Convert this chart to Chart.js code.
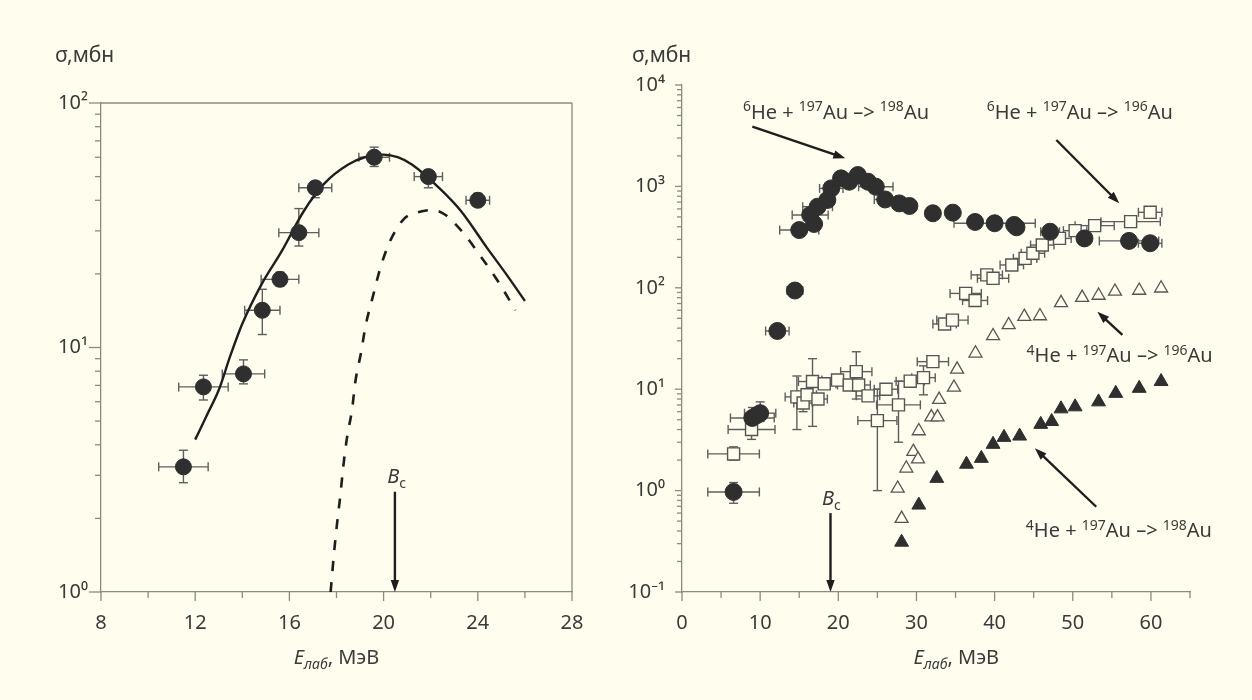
<!DOCTYPE html>
<html>
<head>
<meta charset="utf-8">
<script src="https://cdn.jsdelivr.net/npm/chart.js@4.4.1/dist/chart.umd.min.js"></script>
<style>
    html, body { margin: 0; padding: 0; background: #fffdee; }
    .panel { position: absolute; top: 0; width: 626px; height: 700px; }
    #left-panel { left: 0; }
    #right-panel { left: 626px; }
</style>
</head>
<body>
<div class="panel" id="left-panel"><canvas id="leftChart"></canvas></div>
<div class="panel" id="right-panel"><canvas id="rightChart"></canvas></div>
<script>
// ---- Left panel data ----
const leftE = [11.5, 12.35, 14.05, 14.85, 15.6, 16.4, 17.1, 19.6, 21.9, 24.0];
const leftSigma = [3.25, 6.9, 7.8, 14.2, 19.0, 29.5, 45, 60, 50, 40];
const leftEErr = [1.05, 1.05, 0.9, 0.75, 0.8, 0.85, 0.7, 0.65, 0.6, 0.5];
const leftSigmaLo = [2.8, 6.1, 7.1, 11.3, 17.8, 26, 41, 55, 45, 38];
const leftSigmaHi = [3.8, 7.7, 8.9, 17.3, 20.3, 37, 47.5, 66, 53, 42.7];

const fusionE = [12.0, 12.5, 13.0, 13.5, 14.0, 14.8, 15.7, 16.6, 17.5, 18.5, 19.2, 20.0, 20.6, 21.2, 22.4, 23.3, 24.4, 25.2, 26.0];
const fusionSigma = [4.2, 5.3, 6.7, 9.3, 12.5, 18, 25, 36, 47, 56, 60, 61.5, 60, 56, 44.5, 36, 25.5, 20, 15.5];

const quasiE = [17.75, 17.9, 18.02, 18.17, 18.29, 18.44, 18.66, 18.81, 19.04, 19.23, 19.54, 19.84, 20.22, 20.83, 21.5, 22.1, 22.6, 23.0, 23.5, 24.0, 24.85, 25.6];
const quasiSigma = [1.0, 1.46, 1.89, 2.52, 3.27, 4.24, 5.58, 7.35, 9.5, 12.2, 16.1, 20.8, 26.5, 33.3, 35.8, 36.5, 35, 32.3, 28.5, 24.5, 18.7, 14.2];

const leftXTicks = [8, 12, 16, 20, 24, 28];
const leftXMinor = [10, 14, 18, 22, 26];
const leftYTicks = [1, 10, 100];

// ---- Right panel data ----
// 6He + 197Au -> 198Au (filled circles)
const he6Au198E = [6.6, 9.0, 9.5, 10.0, 12.2, 14.45, 15.0, 16.4, 16.9, 17.35, 18.6, 19.1, 20.35, 21.4, 22.5, 23.8, 24.8, 26.0, 27.8, 29.1, 32.1, 34.65, 37.5, 40.0, 42.5, 42.8, 47.1, 51.5, 57.2, 59.9];
const he6Au198Sigma = [0.97, 5.2, 5.5, 5.8, 37.5, 94, 371, 522, 426, 631, 734, 956, 1200, 1112, 1294, 1112, 993, 743, 680, 641, 543, 551, 446, 433, 417, 395, 357, 307, 290, 275];
const he6Au198EErr = [3.3, 2.8, 0, 2.0, 1.5, 1.0, 2.5, 2.3, 0, 1.9, 0, 1.5, 0, 0, 0, 0, 2.2, 1.4, 0, 0, 0, 0, 0, 5.2, 0, 0, 1.2, 0, 3.8, 1.5];
const he6Au198SigmaLo = [0.75, 4.4, null, 4.8, null, null, null, null, null, null, null, null, null, null, null, null, null, null, null, null, null, null, null, null, null, null, null, null, null, null];
const he6Au198SigmaHi = [1.2, 6.6, null, 7.5, null, null, null, null, null, null, null, null, null, null, null, null, null, null, null, null, null, null, null, null, null, null, null, null, null, null];

// 6He + 197Au -> 196Au (open squares)
const he6Au196E = [6.6, 8.9, 14.7, 15.5, 16.0, 16.7, 17.4, 18.2, 19.9, 21.4, 22.3, 22.6, 23.8, 25.0, 26.1, 27.7, 29.2, 30.9, 32.1, 33.6, 34.6, 36.3, 37.5, 39.0, 39.8, 42.2, 43.9, 44.9, 46.1, 48.3, 50.3, 52.8, 57.4, 59.9];
const he6Au196Sigma = [2.3, 4.0, 8.4, 7.3, 8.8, 11.9, 8.0, 11.3, 12.3, 11.0, 14.9, 11.0, 8.6, 4.9, 10.0, 7.0, 12.0, 13.0, 18.7, 44, 48, 88, 75, 134, 124, 168, 195, 219, 264, 307, 366, 410, 449, 555];
const he6Au196EErr = [3.3, 3.0, 1.5, 1.2, 1.2, 1.8, 1.2, 1.5, 2.0, 1.5, 2.0, 1.5, 1.5, 2.5, 1.5, 2.8, 1.8, 1.5, 2.0, 1.5, 2.0, 2.0, 1.6, 2.0, 2.0, 1.5, 1.5, 1.5, 1.5, 1.5, 1.5, 2.5, 3.8, 1.5];
const he6Au196SigmaLo = [2.0, 3.2, 4.0, 6.0, null, 4.3, null, null, null, null, 8.0, null, null, 1.0, null, 3.0, null, 8.8, null, null, null, null, null, null, null, null, null, null, null, null, null, null, null, null];
const he6Au196SigmaHi = [2.7, 5.0, 13.5, 9.0, null, 20, null, null, null, null, 23.4, null, null, 10, null, 12, null, 17, null, null, null, null, null, null, null, null, null, null, null, null, null, null, null, null];

// 4He + 197Au -> 196Au (open triangles)
const he4Au196E = [28.1, 27.6, 28.7, 29.6, 30.2, 30.3, 31.9, 32.7, 32.9, 34.8, 35.2, 37.55, 39.8, 41.8, 43.8, 45.8, 48.5, 51.2, 53.3, 55.4, 58.5, 61.3];
const he4Au196Sigma = [0.53, 1.05, 1.66, 2.42, 2.04, 3.87, 5.3, 5.3, 7.9, 10.4, 15.7, 22.6, 33.5, 43, 51.9, 52.7, 71, 80, 84, 92, 94, 99];

// 4He + 197Au -> 198Au (filled triangles)
const he4Au198E = [28.1, 30.3, 32.6, 36.4, 38.3, 39.8, 41.2, 43.2, 45.9, 47.3, 48.5, 50.3, 53.3, 55.5, 58.5, 61.3];
const he4Au198Sigma = [0.31, 0.72, 1.32, 1.82, 2.08, 2.86, 3.35, 3.45, 4.5, 4.8, 6.4, 6.7, 7.5, 9.1, 10.2, 11.9];

const rightXTicks = [0, 10, 20, 30, 40, 50, 60];
const rightXMinor = [5, 15, 25, 35, 45, 55, 65];
const rightYTicks = [0.1, 1, 10, 100, 1000, 10000];

// ---- Style ----
const FONT = '"Noto Sans", "Open Sans", sans-serif';
const BG = '#fffdee';
const INK = '#2f2f2f';
const TEXT = '#3a3a3a';
const AXIS = '#8d8a7e';
const ERR = '#5e5e5e';

const SUP = { '-': '\u207b', '0': '\u2070', '1': '\u00b9', '2': '\u00b2', '3': '\u00b3', '4': '\u2074' };

function decadeLabel(v) {
    const exp = Math.round(Math.log10(v));
    return '10' + String(exp).split('').map(c => SUP[c]).join('');
}

function pts(xs, ys) {
    return xs.map((x, i) => ({ x, y: ys[i] }));
}

function minorLog(min, max) {
    const out = [];
    for (let d = min; d < max; d *= 10) {
        for (let k = 2; k <= 9; k++) out.push(d * k);
    }
    return out;
}

// text with superscript / subscript / italic runs, y = baseline
function drawRich(ctx, parts, x, y, size, align) {
    const fonts = parts.map(([t, s]) => {
        const small = s === 'sup' || s === 'sub' || s === 'isub';
        const italic = s === 'i' || s === 'isub';
        return (italic ? 'italic ' : '') + (small ? Math.round(size * 0.72) : size) + 'px ' + FONT;
    });
    let total = 0;
    parts.forEach(([t], i) => { ctx.font = fonts[i]; total += ctx.measureText(t).width; });
    let cx = align === 'center' ? x - total / 2 : align === 'right' ? x - total : x;
    ctx.textAlign = 'left';
    ctx.textBaseline = 'alphabetic';
    parts.forEach(([t, s], i) => {
        ctx.font = fonts[i];
        let dy = 0;
        if (s === 'sup') dy = -size * 0.36;
        if (s === 'sub' || s === 'isub') dy = size * 0.25;
        ctx.fillText(t, cx, y + dy);
        cx += ctx.measureText(t).width;
    });
}

function drawArrow(ctx, x0, y0, x1, y1, head) {
    const a = Math.atan2(y1 - y0, x1 - x0);
    const c = Math.cos(a), s = Math.sin(a);
    ctx.beginPath();
    ctx.moveTo(x0, y0);
    ctx.lineTo(x1 - c * head * 0.8, y1 - s * head * 0.8);
    ctx.stroke();
    ctx.beginPath();
    ctx.moveTo(x1, y1);
    ctx.lineTo(x1 - head * c + head * 0.35 * s, y1 - head * s - head * 0.35 * c);
    ctx.lineTo(x1 - head * c - head * 0.35 * s, y1 - head * s + head * 0.35 * c);
    ctx.closePath();
    ctx.fill();
}

// error bars, drawn under the markers
const errorBars = {
    id: 'errorBars',
    beforeDatasetsDraw(chart) {
        const { ctx, scales: { x, y } } = chart;
        ctx.save();
        ctx.strokeStyle = ERR;
        ctx.lineWidth = 1.4;
        const seg = (a, b, c, d) => { ctx.beginPath(); ctx.moveTo(a, b); ctx.lineTo(c, d); ctx.stroke(); };
        chart.data.datasets.forEach(ds => {
            if (!ds.errors) return;
            const { ex, lo, hi } = ds.errors;
            const cap = 4.5;
            ds.data.forEach((p, i) => {
                const px = x.getPixelForValue(p.x);
                const py = y.getPixelForValue(p.y);
                if (ex && ex[i]) {
                    const x0 = x.getPixelForValue(p.x - ex[i]);
                    const x1 = x.getPixelForValue(p.x + ex[i]);
                    seg(x0, py, x1, py);
                    seg(x0, py - cap, x0, py + cap);
                    seg(x1, py - cap, x1, py + cap);
                }
                if (lo && lo[i] != null) {
                    const y0 = y.getPixelForValue(lo[i]);
                    const y1 = y.getPixelForValue(hi[i]);
                    seg(px, y0, px, y1);
                    seg(px - cap, y0, px + cap, y0);
                    seg(px - cap, y1, px + cap, y1);
                }
            });
        });
        ctx.restore();
    }
};

// tick marks, frame, titles and annotations
const decorations = {
    id: 'decorations',
    afterDraw(chart, args, opts) {
        const { ctx, chartArea: a, scales: { x, y } } = chart;
        ctx.save();
        ctx.strokeStyle = AXIS;
        ctx.lineWidth = 1.3;
        const seg = (x0, y0, x1, y1) => { ctx.beginPath(); ctx.moveTo(x0, y0); ctx.lineTo(x1, y1); ctx.stroke(); };

        if (opts.box) {
            seg(a.left, a.top, a.right, a.top);
            seg(a.right, a.top, a.right, a.bottom);
        }
        opts.xMajor.forEach(v => { const px = x.getPixelForValue(v); seg(px, a.bottom, px, a.bottom + opts.xMajorLen); });
        opts.xMinor.forEach(v => { const px = x.getPixelForValue(v); seg(px, a.bottom, px, a.bottom + opts.xMinorLen); });
        opts.yMajor.forEach(v => { const py = y.getPixelForValue(v); seg(a.left - opts.yMajorLen, py, a.left, py); });
        opts.yMinor.forEach(v => { const py = y.getPixelForValue(v); seg(a.left - opts.yMinorLen, py, a.left, py); });

        ctx.fillStyle = TEXT;
        // y title
        drawRich(ctx, [['\u03c3,\u043c\u0431\u043d', '']], opts.yTitleX, opts.yTitleY, 21, 'left');
        // x title
        drawRich(ctx, [['E', 'i'], ['\u043b\u0430\u0431', 'isub'], [', \u041c\u044d\u0412', '']],
            x.getPixelForValue(opts.xTitleAt), 664, 20, 'center');

        // annotations with arrows
        ctx.fillStyle = '#1e1e1e';
        ctx.strokeStyle = '#1e1e1e';
        ctx.lineWidth = 2.4;
        opts.notes.forEach(n => {
            if (n.parts) {
                ctx.fillStyle = TEXT;
                drawRich(ctx, n.parts, x.getPixelForValue(n.x), y.getPixelForValue(n.y) + 7, n.size || 20, n.align || 'center');
                ctx.fillStyle = '#1e1e1e';
            }
            if (n.arrow) {
                const [x0, y0, x1, y1] = n.arrow;
                drawArrow(ctx, x.getPixelForValue(x0), y.getPixelForValue(y0),
                    x.getPixelForValue(x1), y.getPixelForValue(y1), 12);
            }
        });
        ctx.restore();
    }
};

function baseOptions(cfg) {
    return {
        animation: false,
        responsive: true,
        maintainAspectRatio: false,
        layout: { padding: cfg.padding },
        plugins: {
            legend: { display: false },
            tooltip: { enabled: false },
            decorations: cfg.deco
        },
        scales: {
            x: {
                type: 'linear',
                min: cfg.xMin,
                max: cfg.xMax,
                afterBuildTicks: s => { s.ticks = cfg.xTicks.map(v => ({ value: v })); },
                afterFit: s => { s.height = cfg.xHeight; },
                grid: { display: false, drawTicks: false },
                border: { display: true, color: AXIS, width: 1.3 },
                ticks: { padding: 19, color: TEXT, font: { family: FONT, size: 20 }, maxRotation: 0 }
            },
            y: {
                type: 'logarithmic',
                min: cfg.yMin,
                max: cfg.yMax,
                afterBuildTicks: s => { s.ticks = cfg.yTicks.map(v => ({ value: v })); },
                afterFit: s => { s.width = cfg.yWidth; },
                grid: { display: false, drawTicks: false },
                border: { display: true, color: AXIS, width: 1.3 },
                ticks: { padding: cfg.yPad, color: TEXT, font: { family: FONT, size: 20 }, callback: v => decadeLabel(v) }
            }
        }
    };
}

// ---- Left chart ----
new Chart(document.getElementById('leftChart'), {
    type: 'scatter',
    data: {
        datasets: [
            {
                data: pts(leftE, leftSigma),
                pointStyle: 'circle',
                pointRadius: 8,
                backgroundColor: INK,
                borderColor: INK,
                borderWidth: 1,
                errors: { ex: leftEErr, lo: leftSigmaLo, hi: leftSigmaHi }
            },
            {
                type: 'line',
                data: pts(fusionE, fusionSigma),
                borderColor: '#1e1e1e',
                borderWidth: 2.4,
                pointRadius: 0,
                cubicInterpolationMode: 'monotone',
                fill: false
            },
            {
                type: 'line',
                data: pts(quasiE, quasiSigma),
                borderColor: '#1e1e1e',
                borderWidth: 2.6,
                borderDash: [10, 11],
                pointRadius: 0,
                cubicInterpolationMode: 'monotone',
                fill: false
            }
        ]
    },
    options: baseOptions({
        padding: { top: 103, right: 54, left: 0, bottom: 0 },
        xMin: 8, xMax: 28, xTicks: leftXTicks, xHeight: 108,
        yMin: 1, yMax: 100, yTicks: leftYTicks, yWidth: 101, yPad: 13,
        deco: {
            box: true,
            xMajor: leftXTicks, xMinor: leftXMinor, xMajorLen: 9, xMinorLen: 6,
            yMajor: leftYTicks, yMinor: minorLog(1, 100), yMajorLen: 12, yMinorLen: 6,
            yTitleX: 55, yTitleY: 62, xTitleAt: 18.0,
            notes: [
                { parts: [['B', 'i'], ['c', 'sub']], x: 20.55, y: 2.97, align: 'center', arrow: [20.48, 2.57, 20.48, 1.0] }
            ]
        }
    }),
    plugins: [errorBars, decorations]
});

// ---- Right chart ----
const reaction = (a, b, c) => [[a, 'sup'], ['He + ', ''], [b, 'sup'], ['Au \u2013> ', ''], [c, 'sup'], ['Au', '']];

new Chart(document.getElementById('rightChart'), {
    type: 'scatter',
    data: {
        datasets: [
            {
                data: pts(he6Au198E, he6Au198Sigma),
                pointStyle: 'circle',
                pointRadius: 8.5,
                backgroundColor: INK,
                borderColor: INK,
                borderWidth: 1,
                errors: { ex: he6Au198EErr, lo: he6Au198SigmaLo, hi: he6Au198SigmaHi }
            },
            {
                data: pts(he4Au198E, he4Au198Sigma),
                pointStyle: 'triangle',
                pointRadius: 8,
                backgroundColor: INK,
                borderColor: INK,
                borderWidth: 1
            },
            {
                data: pts(he4Au196E, he4Au196Sigma),
                pointStyle: 'triangle',
                pointRadius: 7.5,
                backgroundColor: BG,
                borderColor: '#555',
                borderWidth: 1.3
            },
            {
                data: pts(he6Au196E, he6Au196Sigma),
                pointStyle: 'rect',
                pointRadius: 8.5,
                backgroundColor: BG,
                borderColor: '#555',
                borderWidth: 1.4,
                errors: { ex: he6Au196EErr, lo: he6Au196SigmaLo, hi: he6Au196SigmaHi }
            }
        ]
    },
    options: baseOptions({
        padding: { top: 85, right: 62, left: 0, bottom: 0 },
        xMin: 0, xMax: 65, xTicks: rightXTicks, xHeight: 108,
        yMin: 0.1, yMax: 10000, yTicks: rightYTicks, yWidth: 56, yPad: 17,
        deco: {
            box: false,
            xMajor: rightXTicks, xMinor: rightXMinor, xMajorLen: 9, xMinorLen: 6,
            yMajor: rightYTicks, yMinor: minorLog(0.1, 10000), yMajorLen: 7, yMinorLen: 5,
            yTitleX: 6, yTitleY: 62, xTitleAt: 35.1,
            notes: [
                { parts: reaction('6', '197', '198'), x: 19.7, y: 5460, arrow: [9.0, 3880, 20.9, 1892] },
                { parts: reaction('6', '197', '196'), x: 50.9, y: 5460, arrow: [47.9, 2870, 55.95, 681] },
                { parts: reaction('4', '197', '196'), x: 56.0, y: 21.7, arrow: [56.35, 34.3, 53.15, 58] },
                { parts: reaction('4', '197', '198'), x: 55.9, y: 0.408, arrow: [53.0, 0.693, 45.15, 2.61] },
                { parts: [['B', 'i'], ['c', 'sub']], x: 19.1, y: 0.845, align: 'center', arrow: [19.0, 0.60, 19.0, 0.1] }
            ]
        }
    }),
    plugins: [errorBars, decorations]
});
</script>
</body>
</html>
